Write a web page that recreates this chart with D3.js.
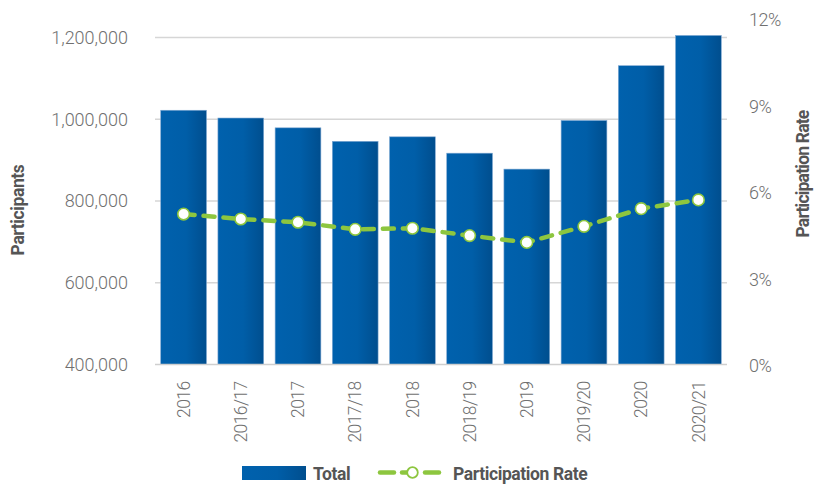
<!DOCTYPE html>
<html><head><meta charset="utf-8">
<script src="https://cdn.jsdelivr.net/npm/d3@7"></script>
<style>
html,body{margin:0;padding:0;background:#fff;}
svg{display:block;}
</style></head>
<body>
<svg id="chart" width="822" height="486"></svg>
<script>
const categories = ["2016","2016/17","2017","2017/18","2018","2018/19","2019","2019/20","2020","2020/21"];
const totalValues = [1022000, 1003000, 979000, 946000, 957000, 917000, 878000, 997000, 1131000, 1205000];
const rateValues = [5.52, 5.34, 5.22, 4.96, 5.00, 4.73, 4.48, 5.07, 5.72, 6.04];
const leftTicks = [400000, 600000, 800000, 1000000, 1200000];
const rightTicks = [0, 3, 6, 9, 12];

const svg = d3.select("#chart");
const plot = {left: 155, right: 727, top: 37.5, bottom: 364.5};

const x = d3.scaleBand().domain(categories).range([plot.left, plot.right]).paddingInner(0.2).paddingOuter(0.1);
const yL = d3.scaleLinear().domain([400000, 1200000]).range([plot.bottom, plot.top]);
const yR = d3.scaleLinear().domain([0, 12]).range([plot.bottom, plot.top]);
const yRLabel = d3.scaleLinear().domain([0, 12]).range([366, 20]);

const defs = svg.append("defs");
const grad = defs.append("linearGradient").attr("id","barGrad").attr("x1","0").attr("x2","1").attr("y1","0").attr("y2","0");
grad.append("stop").attr("offset","0%").attr("stop-color","#0061ad");
grad.append("stop").attr("offset","55%").attr("stop-color","#005ea8");
grad.append("stop").attr("offset","100%").attr("stop-color","#004e8e");

const tickFont = "Roboto, 'Liberation Sans', sans-serif";
const tickColor = "#707070";

// gridlines
svg.append("g").selectAll("line").data(leftTicks.slice(1)).join("line")
  .attr("x1", plot.left).attr("x2", plot.right)
  .attr("y1", d => yL(d)).attr("y2", d => yL(d))
  .attr("stroke", "#d6d6d6").attr("stroke-width", 1.3);

// left axis
const leftAxis = svg.append("g").attr("transform", `translate(${plot.left},0)`)
  .call(d3.axisLeft(yL).tickValues(leftTicks).tickFormat(d3.format(",")).tickSize(0).tickPadding(27));
leftAxis.select(".domain").remove();
leftAxis.selectAll("text").attr("font-family", tickFont).attr("font-weight", 300)
  .attr("font-size", "18px").attr("fill", tickColor);

// right axis
const rightAxis = svg.append("g").attr("transform", `translate(${plot.right},0)`)
  .call(d3.axisRight(yR).tickValues(rightTicks).tickFormat(d => d + "%").tickSize(0).tickPadding(22));
rightAxis.select(".domain").remove();
rightAxis.selectAll(".tick text")
  .attr("font-family", tickFont).attr("font-weight", 300)
  .attr("font-size", "18px").attr("fill", tickColor).attr("letter-spacing", "-0.5px")
  .attr("y", d => yRLabel(d) - yR(d));

// bars
svg.append("g").selectAll("rect").data(categories).join("rect")
  .attr("x", d => x(d)).attr("width", x.bandwidth())
  .attr("y", (d,i) => yL(totalValues[i]))
  .attr("height", (d,i) => plot.bottom - yL(totalValues[i]))
  .attr("fill", "url(#barGrad)")
  .attr("stroke", "#7fa8d2").attr("stroke-width", 0.6);

// baseline
svg.append("line").attr("x1", plot.left).attr("x2", plot.right)
  .attr("y1", plot.bottom).attr("y2", plot.bottom)
  .attr("stroke", "#cfcfcf").attr("stroke-width", 1.3);

// x axis labels
const xAxis = svg.append("g").attr("transform", `translate(0,${plot.bottom})`)
  .call(d3.axisBottom(x).tickSize(0).tickPadding(0));
xAxis.select(".domain").remove();
xAxis.selectAll("text")
  .attr("font-family", tickFont).attr("font-weight", 300)
  .attr("font-size", "17.5px").attr("fill", tickColor).attr("letter-spacing", "-0.6px")
  .attr("text-anchor", "end")
  .attr("dy", "0.35em")
  .attr("x", -17).attr("y", 0)
  .attr("transform", "rotate(-90)");

// line
const green = "#8dc63f";
const line = d3.line().x((d,i) => x(categories[i]) + x.bandwidth()/2).y(d => yR(d));
svg.append("path").datum(rateValues).attr("d", line)
  .attr("fill", "none").attr("stroke", green).attr("stroke-width", 4.5)
  .attr("stroke-dasharray", "11 9").attr("stroke-linecap", "round");
svg.append("g").selectAll("circle").data(rateValues).join("circle")
  .attr("cx", (d,i) => x(categories[i]) + x.bandwidth()/2)
  .attr("cy", d => yR(d)).attr("r", 5.8)
  .attr("fill", "#fff").attr("stroke", green).attr("stroke-width", 1.6);

// axis titles
const titleFont = "Roboto, 'Liberation Sans', sans-serif";
svg.append("text").attr("transform", "translate(24,210) rotate(-90)")
  .attr("text-anchor", "middle").attr("font-family", titleFont).attr("font-weight", 700)
  .attr("font-size", "17.5px").attr("fill", "#555").attr("letter-spacing", "-0.4px")
  .text("Participants");
svg.append("text").attr("transform", "translate(809,174) rotate(-90)")
  .attr("text-anchor", "middle").attr("font-family", titleFont).attr("font-weight", 700)
  .attr("font-size", "17.5px").attr("fill", "#555").attr("letter-spacing", "-0.8px")
  .text("Participation Rate");

// legend
const lg = svg.append("g");
lg.append("rect").attr("x", 242).attr("y", 466).attr("width", 64).attr("height", 14).attr("fill", "url(#barGrad)");
lg.append("text").attr("x", 313).attr("y", 479.5).attr("font-family", titleFont).attr("font-weight", 700)
  .attr("font-size", "17.5px").attr("fill", "#555").attr("letter-spacing", "-0.4px").text("Total");
lg.append("line").attr("x1", 380).attr("x2", 394).attr("y1", 472.5).attr("y2", 472.5)
  .attr("stroke", green).attr("stroke-width", 4.5).attr("stroke-linecap", "round");
lg.append("line").attr("x1", 402).attr("x2", 407).attr("y1", 472.5).attr("y2", 472.5)
  .attr("stroke", green).attr("stroke-width", 4.5).attr("stroke-linecap", "round");
lg.append("line").attr("x1", 425).attr("x2", 439).attr("y1", 472.5).attr("y2", 472.5)
  .attr("stroke", green).attr("stroke-width", 4.5).attr("stroke-linecap", "round");
lg.append("circle").attr("cx", 412.5).attr("cy", 472.5).attr("r", 5.3)
  .attr("fill", "#fff").attr("stroke", green).attr("stroke-width", 1.8);
lg.append("text").attr("x", 453).attr("y", 479.5).attr("font-family", titleFont).attr("font-weight", 700)
  .attr("font-size", "17.5px").attr("fill", "#555").attr("letter-spacing", "-0.4px").text("Participation Rate");
</script>
</body></html>
